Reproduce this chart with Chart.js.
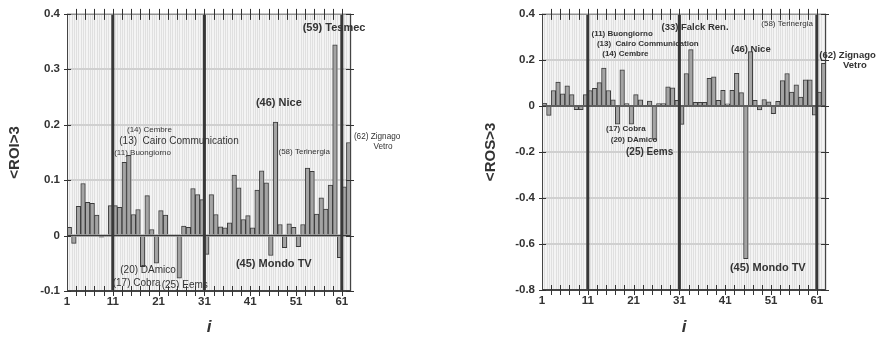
<!DOCTYPE html>
<html>
<head>
<meta charset="utf-8">
<script src="https://cdn.jsdelivr.net/npm/chart.js@4.4.0/dist/chart.umd.min.js"></script>
<style>
  html, body { margin: 0; padding: 0; background: #ffffff; }
  #wrap { position: relative; width: 877px; height: 339px; overflow: hidden; }
  #roiChart { position: absolute; left: 0; top: 0; }
  #rosChart { position: absolute; left: 440px; top: 0; }
</style>
</head>
<body>
<div id="wrap">
  <canvas id="roiChart" width="440" height="339"></canvas>
  <canvas id="rosChart" width="437" height="339"></canvas>
</div>
<script>
// Firm index i (1..62)
const firmIndex = [
  1, 2, 3, 4, 5, 6, 7, 8, 9, 10, 11, 12, 13, 14, 15, 16, 17, 18, 19, 20,
  21, 22, 23, 24, 25, 26, 27, 28, 29, 30, 31, 32, 33, 34, 35, 36, 37, 38, 39, 40,
  41, 42, 43, 44, 45, 46, 47, 48, 49, 50, 51, 52, 53, 54, 55, 56, 57, 58, 59, 60,
  61, 62
];

// <ROI>3 per firm
const roiValues = [
  0.015, -0.014, 0.053, 0.094, 0.060, 0.058, 0.037, -0.003, 0.000, 0.054,
  0.054, 0.051, 0.132, 0.145, 0.038, 0.047, -0.056, 0.072, 0.011, -0.050,
  0.045, 0.037, 0.000, 0.000, -0.077, 0.017, 0.015, 0.085, 0.074, 0.065,
  -0.034, 0.074, 0.038, 0.016, 0.014, 0.023, 0.109, 0.086, 0.029, 0.036,
  0.014, 0.082, 0.117, 0.095, -0.036, 0.205, 0.020, -0.022, 0.021, 0.015,
  -0.020, 0.020, 0.122, 0.116, 0.039, 0.068, 0.048, 0.091, 0.344, -0.040,
  0.088, 0.168
];

// <ROS>3 per firm
const rosValues = [
  0.011, -0.041, 0.067, 0.104, 0.053, 0.087, 0.049, -0.016, -0.016, 0.049,
  0.067, 0.077, 0.101, 0.164, 0.067, 0.026, -0.079, 0.157, 0.010, -0.079,
  0.049, 0.026, 0.000, 0.021, -0.145, 0.010, 0.010, 0.083, 0.079, 0.024,
  -0.080, 0.141, 0.245, 0.016, 0.016, 0.016, 0.120, 0.126, 0.024, 0.068,
  0.009, 0.068, 0.142, 0.058, -0.664, 0.236, 0.024, -0.017, 0.028, 0.018,
  -0.034, 0.020, 0.110, 0.141, 0.060, 0.092, 0.038, 0.113, 0.113, -0.040,
  0.060, 0.185
];

// Axis ticks
const xTickLabels = [1, 11, 21, 31, 41, 51, 61];
const roiTicks = [0.4, 0.3, 0.2, 0.1, 0, -0.1];
const rosTicks = [0.4, 0.2, 0, -0.2, -0.4, -0.6, -0.8];
const periodBreaks = [11, 31, 61];

// Firm name labels: [text, i, value, size, weight]
const roiNotes = [
  ['(59) Tesmec', 59.3, 0.375, 11, 'bold'],
  ['(46) Nice', 47.25, 0.239, 11, 'bold'],
  ['(62) Zignago', 68.7, 0.179, 8.2, 'normal'],
  ['Vetro', 70.0, 0.160, 8.2, 'normal'],
  ['(58) Terinergia', 52.8, 0.152, 8, 'normal'],
  ['(14) Cembre', 19.0, 0.190, 8, 'normal'],
  ['(13)  Cairo Communication', 25.45, 0.171, 10, 'normal'],
  ['(11) Buongiorno', 17.5, 0.149, 8, 'normal'],
  ['(20) DAmico', 18.7, -0.063, 10, 'normal'],
  ['(17) Cobra', 16.2, -0.086, 10, 'normal'],
  ['(25) Eems', 26.7, -0.089, 10, 'normal'],
  ['(45) Mondo TV', 46.15, -0.052, 11, 'bold']
];
const rosNotes = [
  ['(11) Buongiorno', 18.5, 0.314, 8, 'bold'],
  ['(13)  Cairo Communication', 24.1, 0.271, 8, 'bold'],
  ['(14) Cembre', 19.2, 0.226, 8, 'bold'],
  ['(33) Falck Ren.', 34.4, 0.340, 9.5, 'bold'],
  ['(58) Terinergia', 54.5, 0.359, 8, 'normal'],
  ['(46) Nice', 46.6, 0.246, 9.5, 'bold'],
  ['(62) Zignago', 67.7, 0.220, 9.5, 'bold'],
  ['Vetro', 69.3, 0.175, 9.5, 'bold'],
  ['(17) Cobra', 19.3, -0.101, 8, 'bold'],
  ['(20) DAmico', 21.1, -0.147, 8, 'bold'],
  ['(25) Eems', 24.5, -0.202, 10, 'bold'],
  ['(45) Mondo TV', 50.3, -0.706, 11, 'bold']
];

const FONT = "'Liberation Sans', Arial, sans-serif";
const INK = '#333333';

function fmtTick(v) {
  return Math.abs(v) < 1e-9 ? '0' : Number(v).toFixed(1);
}

// Draws the plot background, period dividers, inward ticks, frame and firm labels
function makeFrame(notes, yTicks) {
  return {
    id: 'frame',
    beforeDraw(chart) {
      const { ctx, chartArea: a, scales: { x } } = chart;
      ctx.save();
      ctx.fillStyle = '#f4f4f4';
      ctx.fillRect(a.left, a.top, a.width, a.height);
      ctx.strokeStyle = '#e0e0e0';
      ctx.lineWidth = 1;
      for (let k = 2; k <= 126; k++) {
        const px = Math.round(x.getPixelForValue(k / 2)) + 0.5;
        ctx.beginPath();
        ctx.moveTo(px, a.top);
        ctx.lineTo(px, a.bottom);
        ctx.stroke();
      }
      ctx.restore();
    },
    afterDatasetsDraw(chart) {
      const { ctx, chartArea: a, scales: { x, y } } = chart;
      ctx.save();
      // zero line
      const y0 = y.getPixelForValue(0);
      ctx.strokeStyle = '#3a3a3a';
      ctx.lineWidth = 1.5;
      ctx.beginPath();
      ctx.moveTo(a.left, y0);
      ctx.lineTo(a.right, y0);
      ctx.stroke();
      // period dividers
      ctx.strokeStyle = '#383838';
      ctx.lineWidth = 3;
      periodBreaks.forEach(v => {
        const px = x.getPixelForValue(v);
        ctx.beginPath();
        ctx.moveTo(px, a.top);
        ctx.lineTo(px, a.bottom);
        ctx.stroke();
      });
      // frame
      ctx.lineWidth = 1;
      ctx.strokeStyle = '#8a8a8a';
      ctx.beginPath();
      ctx.moveTo(a.left, a.top + 0.5);
      ctx.lineTo(a.right, a.top + 0.5);
      ctx.stroke();
      ctx.strokeStyle = '#444444';
      ctx.beginPath();
      ctx.moveTo(a.left + 0.5, a.top);
      ctx.lineTo(a.left + 0.5, a.bottom);
      ctx.moveTo(a.right - 0.5, a.top);
      ctx.lineTo(a.right - 0.5, a.bottom);
      ctx.stroke();
      ctx.lineWidth = 2;
      ctx.beginPath();
      ctx.moveTo(a.left, a.bottom);
      ctx.lineTo(a.right, a.bottom);
      ctx.stroke();
      // ticks crossing the top and bottom axes
      ctx.lineWidth = 1;
      ctx.strokeStyle = '#333333';
      for (let v = 3; v <= 61; v += 2) {
        const px = Math.round(x.getPixelForValue(v)) + 0.5;
        ctx.beginPath();
        ctx.moveTo(px, a.top - 5);
        ctx.lineTo(px, a.top + 6);
        ctx.moveTo(px, a.bottom - 5);
        ctx.lineTo(px, a.bottom + 5);
        ctx.stroke();
      }
      // ticks on the left and right axes
      yTicks.forEach(v => {
        const py = Math.round(y.getPixelForValue(v)) + 0.5;
        ctx.beginPath();
        ctx.moveTo(a.left - 3, py);
        ctx.lineTo(a.left + 4, py);
        ctx.moveTo(a.right - 5, py);
        ctx.lineTo(a.right + 3, py);
        ctx.stroke();
      });
      ctx.restore();
    },
    afterDraw(chart) {
      const { ctx, scales: { x, y } } = chart;
      ctx.save();
      ctx.fillStyle = INK;
      ctx.textAlign = 'center';
      ctx.textBaseline = 'middle';
      notes.forEach(([text, nx, ny, size, weight]) => {
        ctx.font = `${weight} ${size}px ${FONT}`;
        ctx.fillText(text, x.getPixelForValue(nx), y.getPixelForValue(ny));
      });
      ctx.restore();
    }
  };
}

function makeChart(id, values, yTicks, yTitle, box, notes) {
  return new Chart(document.getElementById(id), {
    type: 'bar',
    data: {
      datasets: [{
        data: firmIndex.map((i, k) => ({ x: i + 0.5, y: values[k] })),
        backgroundColor: '#a4a4a4',
        borderColor: '#3c3c3c',
        borderWidth: 1,
        barPercentage: 1,
        categoryPercentage: 1
      }]
    },
    options: {
      responsive: false,
      animation: false,
      devicePixelRatio: 1,
      layout: { padding: { left: box.padLeft, right: box.padRight, top: box.padTop, bottom: 0 } },
      plugins: { legend: { display: false }, tooltip: { enabled: false } },
      scales: {
        x: {
          type: 'linear',
          min: 1,
          max: 63,
          offset: false,
          grid: { display: false, drawTicks: false },
          border: { display: false },
          afterBuildTicks: s => { s.ticks = xTickLabels.map(v => ({ value: v })); },
          ticks: {
            autoSkip: false, maxRotation: 0, padding: 4, color: INK,
            font: { family: FONT, size: 11.5, weight: 'bold' },
            callback: v => String(v)
          },
          title: {
            display: true, text: 'i', color: INK,
            font: { family: FONT, size: 17, style: 'italic', weight: 'bold' },
            padding: { top: 0, bottom: 1 }
          },
          afterFit: s => { s.height = box.xHeight; }
        },
        y: {
          min: yTicks[yTicks.length - 1],
          max: yTicks[0],
          afterBuildTicks: s => { s.ticks = yTicks.slice().reverse().map(v => ({ value: v })); },
          grid: { color: '#d0d0d0', lineWidth: 2, drawTicks: false },
          border: { display: false },
          ticks: {
            padding: 7, color: INK,
            font: { family: FONT, size: 11.5, weight: 'bold' },
            callback: v => fmtTick(v)
          },
          title: {
            display: true, text: yTitle, color: INK,
            font: { family: FONT, size: 15, weight: 'bold' },
            padding: { top: 6, bottom: 0 }
          },
          afterFit: s => { s.width = box.yWidth; }
        }
      }
    },
    plugins: [makeFrame(notes, yTicks)]
  });
}

makeChart('roiChart', roiValues, roiTicks, '<ROI>3',
  { padLeft: 0, yWidth: 67, padRight: 89, padTop: 12, xHeight: 48 }, roiNotes);
makeChart('rosChart', rosValues, rosTicks, '<ROS>3',
  { padLeft: 36, yWidth: 66, padRight: 51, padTop: 10, xHeight: 49 }, rosNotes);
</script>
</body>
</html>
